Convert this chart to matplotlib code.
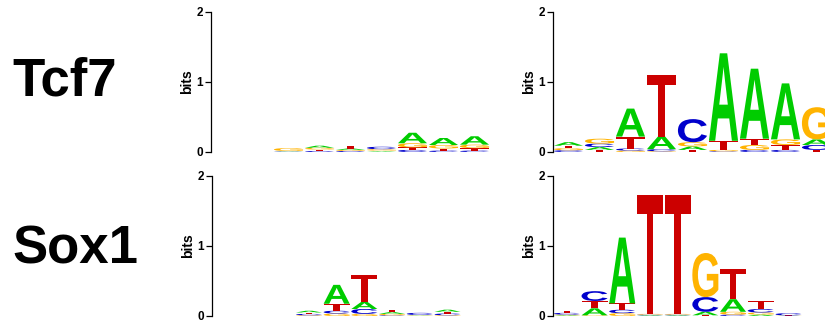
import matplotlib
matplotlib.use('Agg')
import matplotlib.pyplot as plt
from matplotlib.textpath import TextPath
from matplotlib.patches import PathPatch
from matplotlib.font_manager import FontProperties
from matplotlib.transforms import Affine2D

# ---------------- data (bits per letter, columns 1..9) ----------------
tf_names = ['Tcf7', 'Sox1']

tcf7_left_A = [0, 0, 0.005, 0.030, 0.020, 0.010, 0.150, 0.100, 0.120]
tcf7_left_C = [0, 0, 0.005, 0.015, 0.015, 0.035, 0.030, 0.020, 0.020]
tcf7_left_G = [0, 0, 0.040, 0.025, 0.015, 0.020, 0.060, 0.050, 0.050]
tcf7_left_T = [0, 0, 0.005, 0.020, 0.035, 0.010, 0.035, 0.030, 0.035]

tcf7_right_A = [0.050, 0.040, 0.400, 0.180, 0.050, 1.250, 1.000, 0.800, 0.080]
tcf7_right_C = [0.025, 0.050, 0.030, 0.030, 0.330, 0.010, 0.030, 0.030, 0.070]
tcf7_right_G = [0.030, 0.070, 0.020, 0.010, 0.060, 0.020, 0.070, 0.080, 0.460]
tcf7_right_T = [0.035, 0.030, 0.170, 0.880, 0.030, 0.130, 0.090, 0.070, 0.030]

sox1_left_A = [0, 0, 0, 0.025, 0.270, 0.100, 0.025, 0.005, 0.030]
sox1_left_C = [0, 0, 0, 0.020, 0.040, 0.070, 0.010, 0.030, 0.025]
sox1_left_G = [0, 0, 0, 0.010, 0.035, 0.030, 0.020, 0.005, 0.010]
sox1_left_T = [0, 0, 0, 0.020, 0.100, 0.390, 0.035, 0.005, 0.025]

sox1_right_A = [0.010, 0.100, 0.940, 0.010, 0.010, 0.050, 0.180, 0.020, 0.003]
sox1_right_C = [0.025, 0.140, 0.050, 0.010, 0.010, 0.210, 0.020, 0.050, 0.030]
sox1_right_G = [0.010, 0.010, 0.040, 0.010, 0.010, 0.630, 0.040, 0.030, 0.003]
sox1_right_T = [0.030, 0.105, 0.090, 1.700, 1.700, 0.010, 0.430, 0.120, 0.003]

y_ticks = [0, 1, 2]
y_tick_labels = ['0', '1', '2']

# ---------------- drawing helpers ----------------
FP = FontProperties(family='Liberation Sans', weight='bold')
COLORS = {'A': '#00CC00', 'C': '#0000CC', 'G': '#FFB300', 'T': '#CC0000'}
_glyphs = {}


def glyph(letter):
    if letter not in _glyphs:
        p = TextPath((0, 0), letter, size=1, prop=FP)
        _glyphs[letter] = (p, p.get_extents())
    return _glyphs[letter]


def draw_logo(ax, A, C, G, T, width=0.94):
    cols = {'A': A, 'C': C, 'G': G, 'T': T}
    for i in range(len(A)):
        x = i + 1
        stack = sorted((cols[L][i], L) for L in 'ACGT')
        y = 0.0
        for h, L in stack:
            if h <= 0:
                continue
            p, ext = glyph(L)
            tr = (Affine2D().translate(-ext.x0, -ext.y0)
                  .scale(width / ext.width, h / ext.height)
                  .translate(x - width / 2, y))
            ax.add_patch(PathPatch(tr.transform_path(p), facecolor=COLORS[L],
                                   edgecolor='none', transform=ax.transData,
                                   clip_on=False))
            y += h


W, H = 825, 322
fig = plt.figure(figsize=(W / 100, H / 100), dpi=100)


def make_axes(x0, y_zero, spacing):
    width_px = 320
    ax = fig.add_axes([x0 / W, (H - y_zero) / H, width_px / W, 140 / H])
    ax.set_xlim(0.5, 0.5 + width_px / spacing)
    ax.set_ylim(0, 2)
    for s in ['top', 'right', 'bottom']:
        ax.spines[s].set_visible(False)
    ax.spines['left'].set_linewidth(0.9)
    ax.set_xticks([])
    ax.set_yticks(y_ticks)
    ax.set_yticklabels(y_tick_labels, fontweight='bold', fontsize=8.5,
                       family='Liberation Sans')
    ax.tick_params(axis='y', direction='out', length=4, width=0.9, pad=1.5)
    ax.set_ylabel('bits', fontweight='bold', fontsize=10,
                  family='Liberation Sans', labelpad=2)
    ax.patch.set_alpha(0)
    return ax


ax = make_axes(211, 152, 31.0)
draw_logo(ax, tcf7_left_A, tcf7_left_C, tcf7_left_G, tcf7_left_T)
ax = make_axes(553, 152, 31.0)
draw_logo(ax, tcf7_right_A, tcf7_right_C, tcf7_right_G, tcf7_right_T)
ax = make_axes(212, 316, 27.7)
draw_logo(ax, sox1_left_A, sox1_left_C, sox1_left_G, sox1_left_T)
ax = make_axes(553, 316, 27.7)
draw_logo(ax, sox1_right_A, sox1_right_C, sox1_right_G, sox1_right_T)

fig.text(65 / W, 1 - 82 / H, tf_names[0], fontsize=38, fontweight='bold',
         family='Liberation Sans', ha='center', va='center')
fig.text(75 / W, 1 - 249 / H, tf_names[1], fontsize=38, fontweight='bold',
         family='Liberation Sans', ha='center', va='center')

fig.savefig('out.png', dpi=100)
